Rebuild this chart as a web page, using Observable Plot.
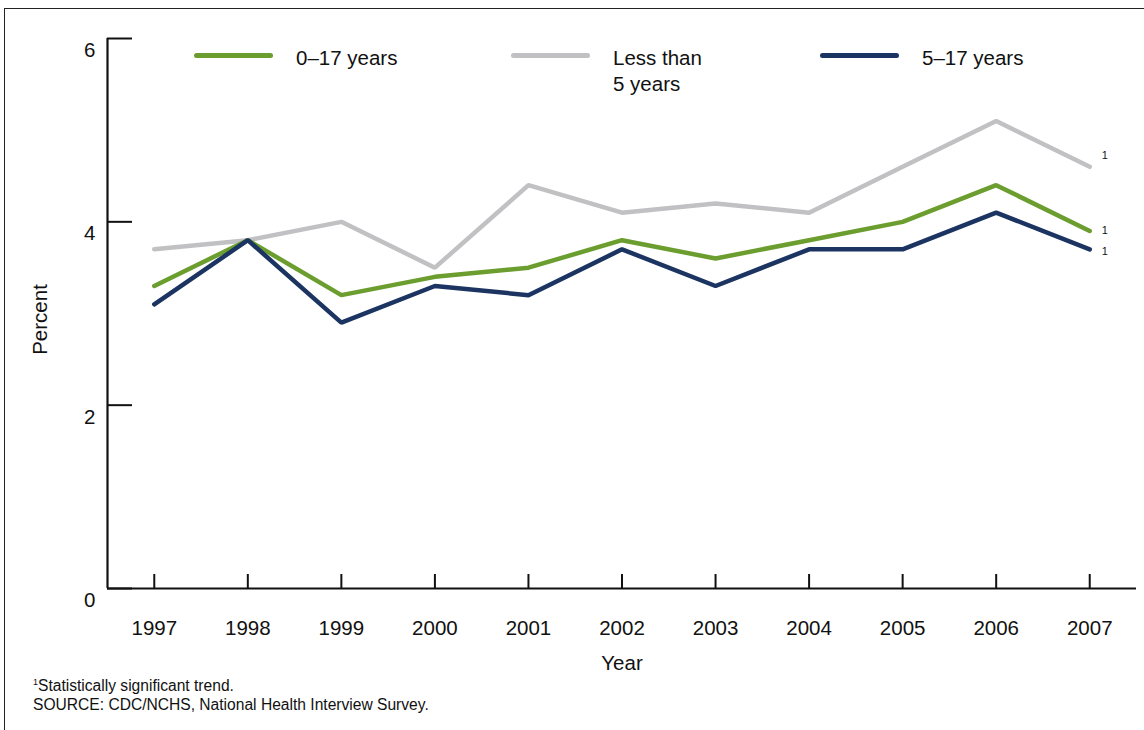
<!DOCTYPE html>
<html>
<head>
<meta charset="utf-8">
<script src="https://cdn.jsdelivr.net/npm/d3@7"></script>
<script src="https://cdn.jsdelivr.net/npm/@observablehq/plot@0.6"></script>
<style>
  html, body { margin: 0; padding: 0; background: #fff; overflow: hidden; }
  body { width: 1144px; height: 730px; position: relative; font-family: "Liberation Sans", Arial, Helvetica, sans-serif; color: #111; }
  #frame { position: absolute; left: 4px; top: 8px; width: 1200px; height: 800px; border: 1.5px solid #222; box-sizing: border-box; }
  #chart { position: absolute; left: 0; top: 0; }
  #legend { position: absolute; left: 0; top: 0; width: 1144px; height: 110px; }
  .item { position: absolute; top: 45px; display: flex; align-items: flex-start; }
  .item .sw { width: 79px; height: 5px; border-radius: 3px; margin-top: 8px; }
  .item .lab { margin-left: 23px; font-size: 20.5px; line-height: 26px; margin-top: 0px; }
  #notes { position: absolute; left: 33px; top: 673px; font-size: 15.6px; line-height: 19px; }
  #notes sup { font-size: 9px; vertical-align: 6px; }
</style>
</head>
<body>
<div id="frame"></div>
<div id="chart"></div>
<div id="legend"></div>
<div id="notes"><span><sup>1</sup>Statistically significant trend.</span><br>SOURCE: CDC/NCHS, National Health Interview Survey.</div>
<script>
const years = [1997, 1998, 1999, 2000, 2001, 2002, 2003, 2004, 2005, 2006, 2007];
const seriesNames = ["0\u201317 years", "Less than 5 years", "5\u201317 years"];
const legendLabels = ["0\u201317 years", "Less than<br>5 years", "5\u201317 years"];
const colors = ["#6b9e2f", "#c1c1c4", "#1b3461"];
const all017 = [3.3, 3.8, 3.2, 3.4, 3.5, 3.8, 3.6, 3.8, 4.0, 4.4, 3.9];
const under5 = [3.7, 3.8, 4.0, 3.5, 4.4, 4.1, 4.2, 4.1, 4.6, 5.1, 4.6];
const age517 = [3.1, 3.8, 2.9, 3.3, 3.2, 3.7, 3.3, 3.7, 3.7, 4.1, 3.7];
const yTicks = [0, 2, 4, 6];
const footnoteMark = "1";

const values = [all017, under5, age517];
const drawOrder = [1, 0, 2];
const data = [];
drawOrder.forEach(s => years.forEach((yr, i) => data.push({series: seriesNames[s], year: yr, value: values[s][i]})));
const lastYear = years[years.length - 1];
const lastOf = name => data.filter(d => d.year === lastYear && d.series === name);
const noteDy = [-1, -11, 2];

const xMin = years[0] - 0.5, xMax = lastYear + 0.5;
const FS = 20.5;

const chart = Plot.plot({
  width: 1144,
  height: 730,
  marginLeft: 107,
  marginRight: 8,
  marginTop: 38,
  marginBottom: 142,
  style: {fontFamily: '"Liberation Sans", Arial, Helvetica, sans-serif', fontSize: FS + "px", color: "#111", background: "transparent"},
  x: {domain: [xMin, xMax]},
  y: {domain: [0, 6]},
  color: {domain: seriesNames, range: colors},
  marks: [
    Plot.axisY({ticks: yTicks, tickSize: -25, strokeWidth: 2, tickFormat: () => "", label: null}),
    Plot.axisY({ticks: yTicks, tickSize: 0, tickPadding: 12, dy: 12, fontSize: FS, tickFormat: d => String(d), label: null}),
    Plot.axisX({ticks: years, tickSize: -14, strokeWidth: 2, tickFormat: () => "", label: null}),
    Plot.axisX({ticks: years, tickSize: 0, tickPadding: 32, fontSize: FS, tickFormat: d => String(d), label: null}),
    Plot.ruleY([0], {stroke: "#111", strokeWidth: 2.2}),
    Plot.ruleX([xMin], {stroke: "#111", strokeWidth: 2.2}),
    Plot.line(data, {x: "year", y: "value", z: "series", stroke: "series", strokeWidth: 4.5, strokeLinejoin: "miter", strokeLinecap: "round"}),
    ...seriesNames.map((s, i) => Plot.text(lastOf(s), {x: "year", y: "value", text: () => footnoteMark, dx: 12, dy: noteDy[i], fontSize: 11, fill: "#111", textAnchor: "start"})),
    Plot.text(["Year"], {frameAnchor: "bottom", dy: 81, fontSize: FS, fill: "#111"}),
    Plot.text(["Percent"], {frameAnchor: "left", textAnchor: "middle", rotate: -90, dx: -67, dy: 6, fontSize: FS, fill: "#111"})
  ]
});
document.getElementById("chart").appendChild(chart);

const legend = document.getElementById("legend");
const lefts = [194, 511, 820];
seriesNames.forEach((s, i) => {
  const div = document.createElement("div");
  div.className = "item";
  div.style.left = lefts[i] + "px";
  div.innerHTML = `<div class="sw" style="background:${colors[i]}"></div><div class="lab">${legendLabels[i]}</div>`;
  legend.appendChild(div);
});
</script>
</body>
</html>
